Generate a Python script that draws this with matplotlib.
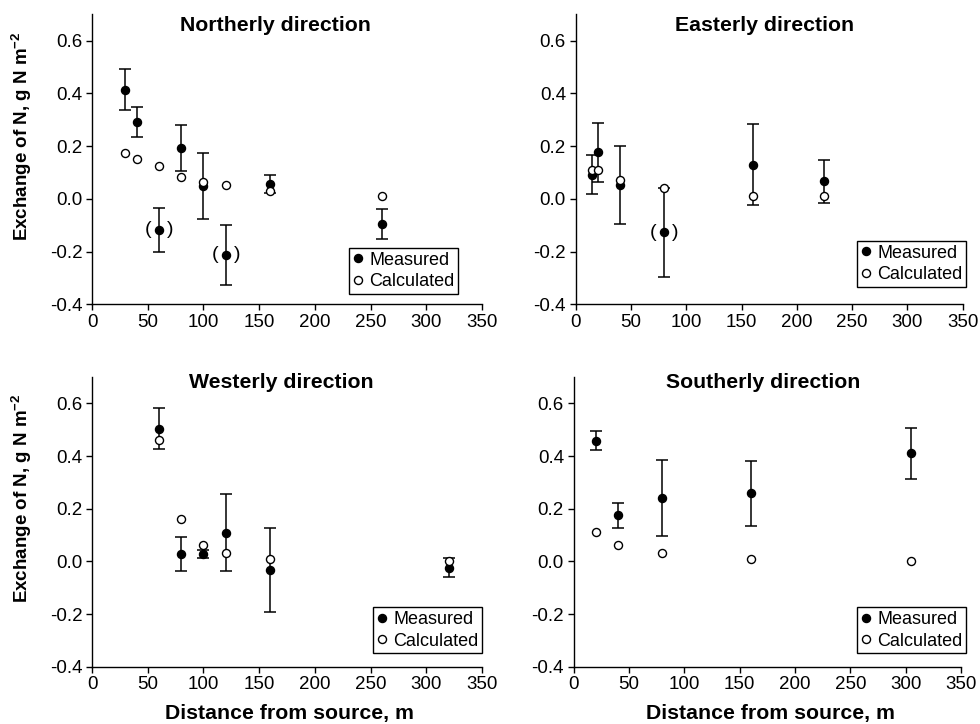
import numpy as np
import matplotlib.pyplot as plt

plt.rcParams["font.family"] = ["Liberation Sans", "DejaVu Sans"]
plt.rcParams["mathtext.fontset"] = "custom"
plt.rcParams["mathtext.rm"] = "Liberation Sans"
plt.rcParams["mathtext.bf"] = "Liberation Sans:bold"

# Northerly
n_x = [30, 40, 60, 80, 100, 120, 160, 260]
n_meas = [0.414, 0.292, -0.118, 0.194, 0.049, -0.213, 0.056, -0.096]
n_err = [0.077, 0.056, 0.082, 0.087, 0.124, 0.113, 0.035, 0.057]
n_calc = [0.172, 0.152, 0.123, 0.082, 0.062, 0.052, 0.030, 0.011]
n_paren = [60, 120]

# Easterly
e_x = [15, 20, 40, 80, 160, 225]
e_meas = [0.092, 0.177, 0.051, -0.127, 0.130, 0.066]
e_err = [0.075, 0.112, 0.148, 0.168, 0.154, 0.080]
e_calc = [0.111, 0.111, 0.072, 0.041, 0.010, 0.010]
e_paren = [80]

# Westerly
w_x = [60, 80, 100, 120, 160, 320]
w_meas = [0.504, 0.027, 0.028, 0.109, -0.033, -0.024]
w_err = [0.077, 0.065, 0.015, 0.147, 0.159, 0.036]
w_calc = [0.461, 0.161, 0.061, 0.030, 0.010, 0.001]
w_paren = []

# Southerly
s_x = [20, 40, 80, 160, 305]
s_meas = [0.459, 0.175, 0.241, 0.258, 0.410]
s_err = [0.036, 0.048, 0.145, 0.125, 0.097]
s_calc = [0.110, 0.061, 0.030, 0.010, 0.000]
s_paren = []

panels = [
    ("Northerly direction", n_x, n_meas, n_err, n_calc, n_paren),
    ("Easterly direction", e_x, e_meas, e_err, e_calc, e_paren),
    ("Westerly direction", w_x, w_meas, w_err, w_calc, w_paren),
    ("Southerly direction", s_x, s_meas, s_err, s_calc, s_paren),
]

# axes rectangles (left, bottom, width, height) in figure fraction
rects = [
    [0.0939, 0.5797, 0.398, 0.4006],
    [0.5874, 0.5797, 0.3949, 0.4006],
    [0.0939, 0.0791, 0.398, 0.4001],
    [0.5854, 0.0791, 0.3952, 0.4001],
]
title_pos = [(0.47, 0.943), (0.487, 0.943), (0.485, 0.963), (0.488, 0.963)]
leg_pos = [(0.938, 0.036), (1.009, 0.06), (1.0, 0.047), (1.013, 0.047)]

fig = plt.figure(figsize=(9.8, 7.24), dpi=100)

for i, (title, x, meas, err, calc, paren) in enumerate(panels):
    ax = fig.add_axes(rects[i])
    ax.errorbar(x, meas, yerr=err, fmt="none", ecolor="black",
                elinewidth=1.1, capsize=4.3, capthick=1.1, zorder=2)
    ax.plot(x, meas, "o", color="black", markersize=5.8, zorder=3, label="Measured")
    ax.plot(x, calc, "o", markerfacecolor="white", markeredgecolor="black",
            markeredgewidth=1.0, markersize=5.8, zorder=4, label="Calculated")
    for px in paren:
        py = meas[x.index(px)]
        ax.annotate("(", (px, py), xytext=(-8, 0), textcoords="offset points",
                    ha="center", va="center", fontsize=14)
        ax.annotate(")", (px, py), xytext=(8, 0), textcoords="offset points",
                    ha="center", va="center", fontsize=14)

    ax.set_xlim(0, 350)
    ax.set_ylim(-0.4, 0.7)
    ax.set_xticks(np.arange(0, 351, 50))
    ax.set_yticks([-0.4, -0.2, 0.0, 0.2, 0.4, 0.6])
    ax.set_yticklabels(["-0.4", "-0.2", "0.0", "0.2", "0.4", "0.6"])
    ax.spines["top"].set_visible(False)
    ax.spines["right"].set_visible(False)
    ax.spines["left"].set_linewidth(1.0)
    ax.spines["bottom"].set_linewidth(1.0)
    ax.tick_params(direction="out", length=4, width=1.0, labelsize=13.5, pad=3)

    ax.text(title_pos[i][0], title_pos[i][1], title, transform=ax.transAxes,
            ha="center", va="baseline", fontsize=15.3, fontweight="bold")

    leg = ax.legend(loc="lower right", bbox_to_anchor=leg_pos[i], borderaxespad=0,
                    fontsize=13, fancybox=False, edgecolor="black", framealpha=1,
                    handlelength=0.6, handletextpad=0.3, labelspacing=0.25,
                    borderpad=0.2)
    leg.get_frame().set_linewidth(1.0)

    if i % 2 == 0:
        ax.set_ylabel("Exchange of N, g N m$^{\\mathbf{-2}}$", fontsize=13.5,
                      fontweight="bold")
        ax.yaxis.set_label_coords(-0.148, 0.58)
    if i >= 2:
        ax.set_xlabel("Distance from source, m", fontsize=15.3, fontweight="bold")
        ax.xaxis.set_label_coords(0.507, -0.128)

fig.savefig("out.png", dpi=100)
